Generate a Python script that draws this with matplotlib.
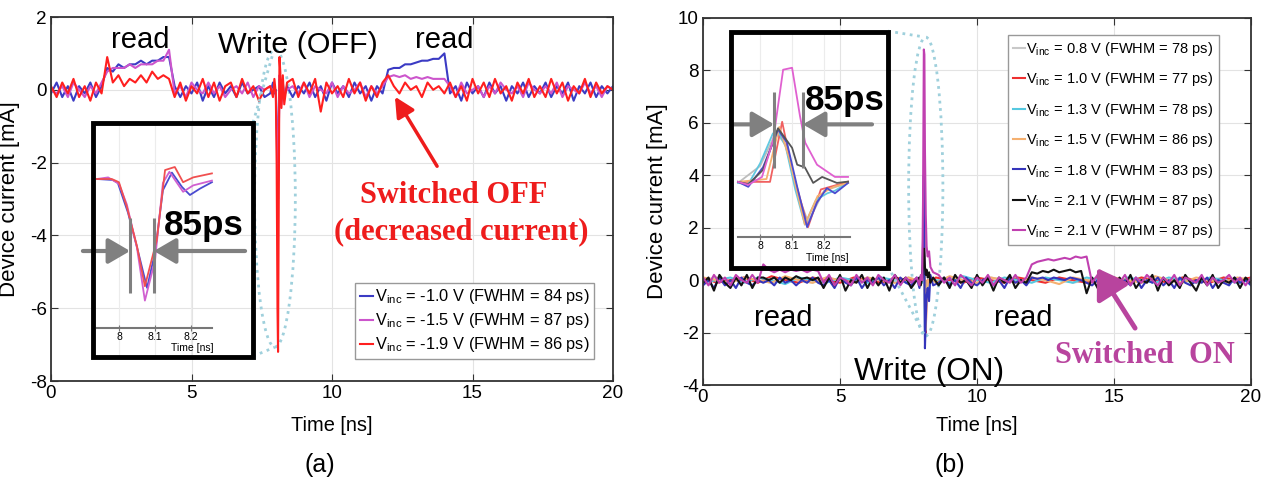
import numpy as np
import matplotlib
matplotlib.use('Agg')
import matplotlib.pyplot as plt
from matplotlib import font_manager
from matplotlib.patches import Ellipse, Rectangle

names = {f.name for f in font_manager.fontManager.ttflist}
NARROW = 'Liberation Sans Narrow' if 'Liberation Sans Narrow' in names else 'Liberation Sans'
SERIF = 'Liberation Serif'
# the source picture is squeezed sideways; without a narrow face, shrink the text instead
K = 1.0 if NARROW == 'Liberation Sans Narrow' else 0.84

plt.rcParams['font.family'] = [NARROW, 'DejaVu Sans']
plt.rcParams['axes.unicode_minus'] = False
plt.rcParams['mathtext.fontset'] = 'custom'
plt.rcParams['mathtext.rm'] = NARROW
plt.rcParams['mathtext.it'] = NARROW

# ---------------- data ----------------
# coarse time grid, 0.2 ns
t = np.round(np.arange(0, 20.001, 0.2), 2)
# 0.5 ns grid for the traces that are mostly hidden in (b)
t_half = np.round(np.arange(0, 20.001, 0.5), 2)
# fine samples across the write pulse
t_spike = [7.8, 7.9, 7.95, 8.0, 8.03, 8.06, 8.08, 8.1, 8.13, 8.16, 8.2, 8.25, 8.3, 8.4]

# (a) switching OFF
a_blue = [-0.1, 0.2, -0.2, 0.1, -0.3, 0.1, -0.1, 0.2, -0.2, 0.1,
          0.6, 0.5, 0.7, 0.6, 0.7, 0.7, 0.8, 0.7, 0.8, 0.8, 0.9, 0.9,
          0.1, -0.2, 0.1, -0.1, 0.2, -0.3, 0.1, -0.2, 0.2, -0.1, 0.1, -0.2, 0.2, -0.1, 0.0, 0.1, -0.2,
          0, 0, 0, 0,
          -0.2, 0.1, -0.1, 0.2, -0.2, 0.1, -0.3, 0.2, -0.1, 0.1, -0.2, 0.2, -0.1, 0.1, -0.3, 0.1, -0.1,
          0.55, 0.6, 0.6, 0.7, 0.7, 0.75, 0.8, 0.8, 0.85, 0.85, 1.0,
          -0.1, 0.1, -0.3, 0.2, -0.1, 0.1, -0.2, 0.2, -0.1, 0.1, -0.3, 0.1, -0.1, 0.2, -0.2,
          0.1, -0.1, 0.2, -0.2, 0.1, -0.1, 0.2, -0.3, 0.1, -0.1, 0.2, -0.2, 0.1, -0.1, 0.1]
a_mag = [0.0, -0.1, 0.1, -0.2, 0.2, 0.0, -0.2, 0.1, -0.1, 0.2,
         0.5, 0.6, 0.6, 0.6, 0.7, 0.6, 0.7, 0.7, 0.7, 0.8, 0.8, 1.1,
         -0.1, 0.1, -0.2, 0.2, 0.0, -0.1, 0.2, -0.1, 0.1, -0.2, 0.0, 0.1, -0.1, 0.2, -0.2, 0.1, 0.0,
         0, 0, 0, 0,
         0.1, -0.1, 0.2, -0.2, 0.1, 0.0, -0.1, 0.2, -0.2, 0.1, -0.1, 0.0, 0.2, -0.2, 0.1, -0.1, 0.1,
         0.35, 0.4, 0.35, 0.4, 0.3, 0.35, 0.3, 0.35, 0.3, 0.3, 0.3,
         0.1, -0.2, 0.2, -0.1, 0.0, 0.1, -0.2, 0.1, -0.1, 0.2, 0.0, -0.1, 0.1, -0.2, 0.2,
         0.0, -0.1, 0.1, -0.1, 0.2, -0.2, 0.1, 0.0, -0.1, 0.2, -0.1, 0.1, -0.2, 0.1, 0.0]
a_red = [0.1, -0.2, 0.2, -0.1, 0.3, -0.2, 0.1, -0.3, 0.2, -0.1,
         0.9, 0.2, 0.4, 0.1, 0.3, 0.2, 0.4, 0.2, 0.5, 0.3, 0.4, 0.3,
         -0.2, 0.2, -0.3, 0.1, -0.1, 0.3, -0.2, 0.2, -0.3, 0.1, 0.2, -0.2, 0.3, -0.1, 0.1, -0.3, 0.0,
         0, 0, 0, 0,
         0.3, -0.2, 0.2, -0.1, 0.3, -0.6, 0.2, -0.1, 0.1, -0.2, 0.3, -0.1, 0.2, -0.3, 0.1, -0.2, 0.2,
         0.4, 0.1, -0.1, 0.2, 0.0, 0.1, -0.2, 0.2, 0.0, 0.1, -0.1,
         0.2, -0.2, 0.1, -0.3, 0.3, -0.1, 0.2, -0.2, 0.3, -0.1, 0.1, -0.3, 0.2, -0.1, 0.3,
         -0.2, 0.1, -0.2, 0.3, -0.1, 0.2, -0.3, 0.1, -0.1, 0.3, -0.2, 0.2, -0.1, 0.1, 0.0]
a_blue_spike = [-0.1, 0.2, -0.1, 0.0, -0.8, -2.0, -2.5, -1.5, 0.3, 0.1, -0.3, 0.2, -0.2, 0.1]
a_mag_spike = [0.1, -0.1, 0.1, -0.1, -1.0, -2.5, -3.0, -1.8, 0.4, 0.2, -0.4, 0.1, -0.1, 0.0]
a_red_spike = [0.1, -0.2, 0.3, -0.1, -2.0, -6.0, -7.2, -4.0, 0.9, 0.5, -0.5, 0.4, -0.4, 0.2]
a_labels = [r'$\mathrm{V_{inc}}$ = -1.0 V (FWHM = 84 ps)',
            r'$\mathrm{V_{inc}}$ = -1.5 V (FWHM = 87 ps)',
            r'$\mathrm{V_{inc}}$ = -1.9 V (FWHM = 86 ps)']
a_colors = ['#3b3bc4', '#cc55cc', '#ff1f1f']

# (a) zoomed pulse, inset
ia_blue_t = [7.939, 7.983, 7.997, 8.025, 8.05, 8.078, 8.1, 8.122, 8.147, 8.175, 8.197, 8.225, 8.258]
ia_blue = [0, -0.06, -0.25, -2.1, -4.25, -6.8, -4.6, -0.7, 0.4, -0.5, -1.0, -0.6, -0.2]
ia_mag_t = [7.939, 7.97, 8.0, 8.022, 8.05, 8.072, 8.1, 8.122, 8.14, 8.178, 8.206, 8.258]
ia_mag = [0, 0.1, -0.3, -1.6, -4.3, -7.6, -5.1, -0.25, 0.45, -0.8, -0.4, -0.1]
ia_red_t = [7.939, 7.98, 8.0, 8.022, 8.05, 8.072, 8.105, 8.128, 8.155, 8.178, 8.206, 8.258]
ia_red = [0, 0, -0.2, -1.75, -4.2, -6.7, -3.8, 0.56, 0.75, -0.2, 0.1, 0.35]

# (b) switching ON
b_mag = [0.1, -0.2, 0.2, -0.1, 0.1, -0.2, 0.2, 0.0, -0.1, 0.2, -0.1,
         0.6, 0.4, 0.3, 0.4, 0.3, 0.4, 0.35, 0.4, 0.3, 0.4, 0.35,
         -0.1, 0.2, -0.2, 0.1, 0.0, -0.2, 0.2, -0.1, 0.1, -0.2, 0.2, 0.0, -0.1, 0.2, -0.2, 0.1, -0.1,
         0, 0, 0, 0,
         0.2, -0.1, 0.1, -0.2, 0.2, 0.0, -0.2, 0.1, -0.1, 0.2, -0.2, 0.1, 0.0, -0.1, 0.2, -0.1, 0.1,
         0.6, 0.7, 0.75, 0.8, 0.75, 0.8, 0.85, 0.8, 0.9, 0.85, 0.9,
         -0.1, 0.2, -0.2, 0.1, 0.0, -0.1, 0.2, -0.2, 0.1, -0.1, 0.2, 0.0, -0.2, 0.1, -0.1,
         0.2, -0.2, 0.1, 0.0, -0.1, 0.2, -0.2, 0.1, -0.1, 0.0, 0.2, -0.1, 0.1, -0.2, 0.1]
b_black = [-0.1, 0.1, -0.4, 0.2, -0.1, -0.3, 0.1, -0.2, 0.2, -0.3, 0.1,
           0.1, 0.0, 0.1, -0.1, 0.1, 0.0, 0.15, 0.05, 0.1, 0.0, 0.1,
           -0.3, 0.1, -0.2, 0.2, -0.4, 0.0, -0.1, 0.2, -0.3, 0.1, -0.2, 0.1, -0.4, 0.2, -0.1, 0.1, -0.3,
           0, 0, 0, 0,
           -0.2, 0.1, -0.3, 0.2, -0.1, 0.0, -0.3, 0.2, -0.2, 0.1, -0.4, 0.1, -0.1, 0.2, -0.3, 0.0, -0.1,
           0.3, 0.25, 0.35, 0.3, 0.4, 0.3, 0.35, 0.4, 0.3, 0.35, -0.5,
           0.1, -0.3, 0.2, -0.1, -0.4, 0.1, -0.2, 0.2, -0.3, 0.0, -0.1, 0.2, -0.4, 0.1, -0.2,
           0.0, -0.3, 0.2, -0.1, -0.4, 0.1, -0.2, 0.2, -0.3, 0.0, -0.1, 0.1, -0.3, 0.1, -0.1]
b_blue = [-0.2, 0.0, -0.3, 0.1, -0.2, 0.0, -0.3, 0.1, -0.1, -0.2, 0.0,
          -0.1, 0.0, -0.2, 0.1, -0.1, 0.0, -0.2, 0.0, -0.1, 0.1, -0.1,
          -0.2, 0.0, -0.3, 0.1, -0.1, -0.2, 0.1, -0.3, 0.0, -0.1, 0.1, -0.2, 0.0, -0.3, 0.1, -0.1, -0.2,
          0, 0, 0, 0,
          -0.1, 0.1, -0.2, 0.0, -0.3, 0.1, -0.1, -0.2, 0.0, 0.1, -0.2, 0.0, -0.3, 0.1, -0.1, 0.0, -0.2,
          0.1, 0.05, 0.1, 0.0, 0.1, 0.05, 0.0, 0.1, 0.05, 0.0, -0.1,
          -0.2, 0.0, -0.1, -0.3, 0.1, -0.1, 0.0, -0.2, 0.1, -0.3, 0.0, -0.1, 0.1, -0.2, 0.0,
          -0.3, 0.1, -0.1, -0.2, 0.0, -0.1, 0.1, -0.3, 0.0, -0.1, -0.2, 0.1, -0.1, 0.0, -0.2]
b_gray = [0.0, 0.1, -0.1, 0.1, 0.0, -0.1, 0.1, 0.0, -0.1, 0.1, 0.0, -0.1, 0.1, 0.0,
          -0.1, 0.1, 0.0, -0.1, 0.1, 0.0, -0.1, 0.1, 0.0, -0.1, 0.1, 0.0, 0.1,
          -0.1, 0.0, 0.1, -0.1, 0.0, 0.1, -0.1, 0.0, 0.1, -0.1, 0.0, 0.1, -0.1, 0.0]
b_red = [0.1, -0.1, 0.0, 0.1, -0.1, 0.15, 0.0, -0.1, 0.1, 0.0, -0.1, 0.1, 0.0, -0.1,
         0.1, 0.0, -0.15, 0.1, 0.0, -0.1, 0.1, 0.0, -0.1, 0.1, 0.0, -0.1, 0.1,
         0.0, -0.1, 0.15, 0.0, -0.1, 0.1, 0.0, -0.1, 0.1, 0.0, -0.1, 0.1, 0.0, 0.1]
b_cyan = [-0.1, 0.0, 0.1, -0.1, 0.1, 0.0, -0.15, 0.1, 0.0, -0.1, 0.1, 0.0, -0.1, 0.1,
          0.0, -0.1, 0.1, 0.0, -0.1, 0.15, 0.0, -0.1, 0.1, 0.0, -0.1, 0.1, 0.0,
          -0.1, 0.1, 0.0, -0.15, 0.1, 0.0, -0.1, 0.1, 0.0, -0.1, 0.1, 0.0, -0.1, 0.0]
b_orange = [0.1, 0.0, -0.1, 0.1, 0.0, -0.1, 0.15, 0.0, -0.1, 0.1, 0.0, -0.1, 0.1, 0.0,
            -0.1, 0.1, 0.0, -0.1, 0.15, 0.0, -0.1, 0.1, 0.0, -0.1, 0.1, 0.0, -0.15,
            0.1, 0.0, -0.1, 0.1, 0.0, -0.1, 0.15, 0.0, -0.1, 0.1, 0.0, -0.1, 0.1, 0.0]
b_gray_spike = [0, 0.1, -0.1, 0, 1.0, 3.0, 0.8, -1.8, -1.0, -0.3, 0, -0.2, 0.1, 0]
b_red_spike = [0, -0.1, 0.1, 0, 0.5, 3.5, 2.0, -1.0, -2.0, -0.5, 0, -0.2, 0.1, 0]
b_cyan_spike = [0, 0.1, 0, -0.1, 1.2, 3.6, 0.9, -2.0, -1.2, -0.4, -0.1, -0.3, 0.1, 0]
b_orange_spike = [0, 0, 0.1, 0, 0.4, 3.2, 1.8, -0.8, -1.9, -0.6, 0, -0.2, 0, 0]
b_blue_spike = [0.1, -0.3, 0.1, 0.0, 1.5, 4.0, 1.0, -2.6, -1.5, -0.6, -0.3, -0.8, 0.2, -0.2]
b_black_spike = [0.0, 0.1, -0.2, 0.1, 0.6, 1.2, 0.9, 0.5, 0.2, 0.4, 0.1, 0.3, -0.1, 0.1]
b_mag_spike = [0.1, -0.2, 0.2, 0.0, 3.0, 8.8, 8.6, 5.0, 2.5, 1.3, 0.9, 1.1, 0.5, 0.3]
b_labels = [r'$\mathrm{V_{inc}}$ = 0.8 V (FWHM = 78 ps)',
            r'$\mathrm{V_{inc}}$ = 1.0 V (FWHM = 77 ps)',
            r'$\mathrm{V_{inc}}$ = 1.3 V (FWHM = 78 ps)',
            r'$\mathrm{V_{inc}}$ = 1.5 V (FWHM = 86 ps)',
            r'$\mathrm{V_{inc}}$ = 1.8 V (FWHM = 83 ps)',
            r'$\mathrm{V_{inc}}$ = 2.1 V (FWHM = 87 ps)',
            r'$\mathrm{V_{inc}}$ = 2.1 V (FWHM = 87 ps)']
b_colors = ['#c8c8c8', '#ee3030', '#55c8e0', '#f5b070', '#3535bb', '#111111', '#c040b0']

# (b) zoomed pulse, inset
ib_t = {
    'gray': [7.931, 8.0, 8.05, 8.08, 8.12, 8.15, 8.2, 8.275],
    'red': [7.931, 8.031, 8.069, 8.1, 8.15, 8.19, 8.234, 8.275],
    'cyan': [7.931, 7.963, 8.0, 8.04, 8.056, 8.08, 8.11, 8.14, 8.175, 8.21, 8.234, 8.275],
    'orange': [7.931, 8.02, 8.06, 8.09, 8.14, 8.18, 8.23, 8.275],
    'blue': [7.931, 7.963, 8.009, 8.047, 8.056, 8.084, 8.116, 8.147, 8.178, 8.209, 8.234, 8.275],
    'black': [7.931, 7.963, 8.009, 8.047, 8.056, 8.1, 8.116, 8.14, 8.166, 8.194, 8.24, 8.275],
    'mag': [7.931, 7.963, 8.006, 8.041, 8.072, 8.1, 8.125, 8.141, 8.178, 8.234, 8.275],
}
ib_v = {
    'gray': [0.0, 1.3, 3.9, 2.9, -1.0, -3.0, -0.6, 0.0],
    'red': [0.08, 0.08, 4.7, 1.0, -3.4, -0.5, -0.2, 0.1],
    'cyan': [0.0, -0.1, 1.5, 3.8, 4.0, 2.8, -0.5, -3.2, -1.3, -0.8, -0.6, 0.0],
    'orange': [0.08, 0.3, 4.3, 2.0, -3.2, -1.0, -0.3, 0.0],
    'blue': [0.08, -0.3, 1.2, 3.5, 4.1, 3.1, -0.3, -3.4, -1.5, -0.4, -0.8, 0.0],
    'black': [0.08, -0.1, 1.0, 3.6, 4.2, 2.7, 1.4, 1.2, 0.0, 0.46, 0.0, 0.1],
    'mag': [0.08, -0.15, 0.46, 3.3, 8.7, 8.85, 5.1, 3.1, 1.4, 0.46, 0.46],
}


def trace(tc, yc, ys):
    tc = np.asarray(tc, float)
    yc = np.asarray(yc, float)
    keep = (tc < 7.75) | (tc > 8.45)
    tt = np.concatenate([tc[keep], t_spike])
    yy = np.concatenate([yc[keep], ys])
    o = np.argsort(tt, kind='stable')
    return tt[o], yy[o]


def frame(ax, ylim, yticks, ylab_x):
    ax.set_xlim(0, 20)
    ax.set_ylim(*ylim)
    ax.set_xticks([0, 5, 10, 15, 20])
    ax.set_yticks(yticks)
    ax.tick_params(direction='in', top=True, right=True, labelsize=15 * K + 1, length=5, pad=3,
                   color='#333')
    ax.grid(True, color='#e3e3e3', lw=0.8)
    ax.set_axisbelow(True)
    for s in ax.spines.values():
        s.set_linewidth(1.3)
        s.set_color('#333')
    ax.set_xlabel('Time [ns]', fontsize=16 * K + 1)
    ax.set_ylabel('Device current [mA]', fontsize=16, family='Liberation Sans')
    ax.yaxis.set_label_coords(ylab_x, 0.5)


def inset(rect, xlim, ylim, axis_y, span, label_xy):
    ia = fig.add_axes(rect)
    ia.patch.set_alpha(0)
    ia.set_xlim(*xlim)
    ia.set_ylim(*ylim)
    for k in ('top', 'right', 'left'):
        ia.spines[k].set_visible(False)
    ia.spines['bottom'].set_position(('data', axis_y))
    ia.spines['bottom'].set_bounds(*span)
    ia.spines['bottom'].set_color('#777')
    ia.spines['bottom'].set_linewidth(1.5)
    ia.set_yticks([])
    ia.set_xticks([8, 8.1, 8.2])
    ia.set_xticklabels(['8', '8.1', '8.2'])
    ia.tick_params(axis='x', direction='inout', length=4, labelsize=7.5, pad=1, color='#777')
    ia.grid(axis='x', color='#ececec', lw=0.8)
    ia.add_patch(Rectangle((0, 0), 1, 1, transform=ia.transAxes, fill=False, lw=3.5,
                           ec='black', clip_on=False, zorder=5))
    ia.text(label_xy[0], label_xy[1], 'Time [ns]', fontsize=7.5, ha='center', va='center')
    return ia


def width_marks(ia, xs, y0, y1, ya, x_left, x_right):
    ia.vlines(xs, y0, y1, color='#808080', lw=2.2, zorder=4)
    style = dict(arrowstyle='-|>,head_length=0.6,head_width=0.35', color='#808080', lw=3,
                 mutation_scale=22, shrinkA=0, shrinkB=0)
    ia.annotate('', xy=(xs[0], ya), xytext=(x_left, ya), arrowprops=style, annotation_clip=False)
    ia.annotate('', xy=(xs[1], ya), xytext=(x_right, ya), arrowprops=style, annotation_clip=False)


fig = plt.figure(figsize=(12.67, 4.86), dpi=100)
W, H = 1267.0, 486.0

# ---------------- panel (a) ----------------
ax = fig.add_axes([51 / W, 1 - 381 / H, 562 / W, 364 / H])
frame(ax, (-8, 2), [-8, -6, -4, -2, 0, 2], -0.055)
ax.xaxis.set_label_coords(0.5, -0.095)
for y, ys, c, lab in zip([a_blue, a_mag, a_red], [a_blue_spike, a_mag_spike, a_red_spike],
                         a_colors, a_labels):
    tt, yy = trace(t, y, ys)
    ax.plot(tt, yy, color=c, lw=1.5, label=lab)

ax.add_patch(Ellipse((7.97, -2.98), 1.45, 8.17, fill=False, ls=':', lw=2, ec='#9fd0dc'))
ax.plot([7.19, 7.9], [-0.9, 1.0], ls=':', lw=2, color='#9fd0dc')
ax.plot([7.19, 7.97], [-7.32, -7.07], ls=':', lw=2, color='#9fd0dc')

ax.text(3.17, 1.15, 'read', fontsize=25 * K, ha='center', va='baseline')
ax.text(14.0, 1.15, 'read', fontsize=25 * K, ha='center', va='baseline')
ax.text(8.79, 1.0, 'Write (OFF)', fontsize=26 * K, ha='center', va='baseline')
ax.text(14.34, -3.1, 'Switched OFF', fontsize=22, ha='center', va='baseline',
        color='#ee1c1c', family=SERIF, weight='bold')
ax.text(14.59, -4.1, '(decreased current)', fontsize=22, ha='center', va='baseline',
        color='#ee1c1c', family=SERIF, weight='bold')
ax.annotate('', xy=(12.24, -0.19), xytext=(13.74, -2.1),
            arrowprops=dict(arrowstyle='-|>,head_length=0.6,head_width=0.3', color='#ee1c1c',
                            lw=2.5, mutation_scale=20, shrinkA=0, shrinkB=0))
leg = ax.legend(loc='lower left', bbox_to_anchor=(0.541, 0.06), fontsize=14 * K, frameon=True,
                fancybox=False, edgecolor='#999', framealpha=1, borderaxespad=0,
                handlelength=0.8, handletextpad=0.1, labelspacing=0.3, borderpad=0.3)
leg.get_frame().set_linewidth(1.0)

ia = inset([93 / W, 1 - 357 / H, 160 / W, 234 / H], (7.928, 8.372), (-11.125, 3.5),
           -9.3, (7.939, 8.258), (8.203, -10.56))
for tt, yy, c in zip([ia_blue_t, ia_mag_t, ia_red_t], [ia_blue, ia_mag, ia_red],
                     ['#4b4bd0', '#d060d0', '#f05050']):
    ia.plot(tt, yy, color=c, lw=1.3)
width_marks(ia, [8.031, 8.097], -2.44, -7.1, -4.5, 7.9, 8.35)
ia.text(8.236, -3.5, '85ps', fontsize=30 * K, weight='bold', ha='center', va='baseline', zorder=6)

# ---------------- panel (b) ----------------
bx = fig.add_axes([703 / W, 1 - 385 / H, 548 / W, 367 / H])
frame(bx, (-4, 10), [-4, -2, 0, 2, 4, 6, 8, 10], -0.064)
bx.xaxis.set_label_coords(0.5, -0.085)
half = [b_gray, b_red, b_cyan, b_orange]
half_spk = [b_gray_spike, b_red_spike, b_cyan_spike, b_orange_spike]
for i, c in enumerate(b_colors):
    if i < 4:
        tt, yy = trace(t_half, half[i], half_spk[i])
    else:
        tt, yy = trace(t, [b_blue, b_black, b_mag][i - 4], [b_blue_spike, b_black_spike, b_mag_spike][i - 4])
    bx.plot(tt, yy, color=c, lw=1.5, label=b_labels[i])

bx.add_patch(Ellipse((8.13, 3.57), 1.25, 11.4, fill=False, ls=':', lw=2, ec='#9fd0dc'))
bx.plot([6.75, 8.05], [9.5, 9.28], ls=':', lw=2, color='#9fd0dc')
bx.plot([6.75, 8.1], [0.53, -2.13], ls=':', lw=2, color='#9fd0dc')

bx.text(2.92, -1.75, 'read', fontsize=25 * K, ha='center', va='baseline')
bx.text(11.68, -1.75, 'read', fontsize=25 * K, ha='center', va='baseline')
bx.text(8.25, -3.8, 'Write (ON)', fontsize=27 * K, ha='center', va='baseline')
bx.text(16.13, -3.16, 'Switched  ON', fontsize=22, ha='center', va='baseline',
        color='#b8449e', family=SERIF, weight='bold')
bx.annotate('', xy=(14.38, 0.46), xytext=(15.77, -1.83),
            arrowprops=dict(arrowstyle='-|>,head_length=0.7,head_width=0.45', color='#b8449e',
                            lw=3.5, mutation_scale=25, shrinkA=0, shrinkB=0))
leg = bx.legend(loc='upper left', bbox_to_anchor=(0.557, 0.954), fontsize=12.5 * K, frameon=True,
                fancybox=False, edgecolor='#999', framealpha=1, borderaxespad=0,
                handlelength=0.8, handletextpad=0.1, labelspacing=0.85, borderpad=0.35)
leg.get_frame().set_linewidth(1.0)

ib = inset([731 / W, 1 - 268 / H, 157 / W, 236 / H], (7.909, 8.4), (-6.54, 11.6),
           -4.15, (7.93, 8.28), (8.21, -5.77))
ib_colors = {'gray': '#bdbdbd', 'red': '#f06060', 'cyan': '#60c8e0', 'orange': '#f5b070',
             'blue': '#4b4bd0', 'black': '#555555', 'mag': '#e060d0'}
for k in ['gray', 'red', 'cyan', 'orange', 'blue', 'black', 'mag']:
    ib.plot(ib_t[k], ib_v[k], color=ib_colors[k], lw=1.3)
width_marks(ib, [8.044, 8.134], 1.15, 7.0, 4.5, 7.916, 8.35)
ib.text(8.266, 5.6, '85ps', fontsize=30 * K, weight='bold', ha='center', va='baseline', zorder=6)

fig.text(320 / W, 1 - 465 / H, '(a)', fontsize=18, ha='center', va='center')
fig.text(950 / W, 1 - 465 / H, '(b)', fontsize=18, ha='center', va='center')

fig.savefig('out.png', dpi=100)
